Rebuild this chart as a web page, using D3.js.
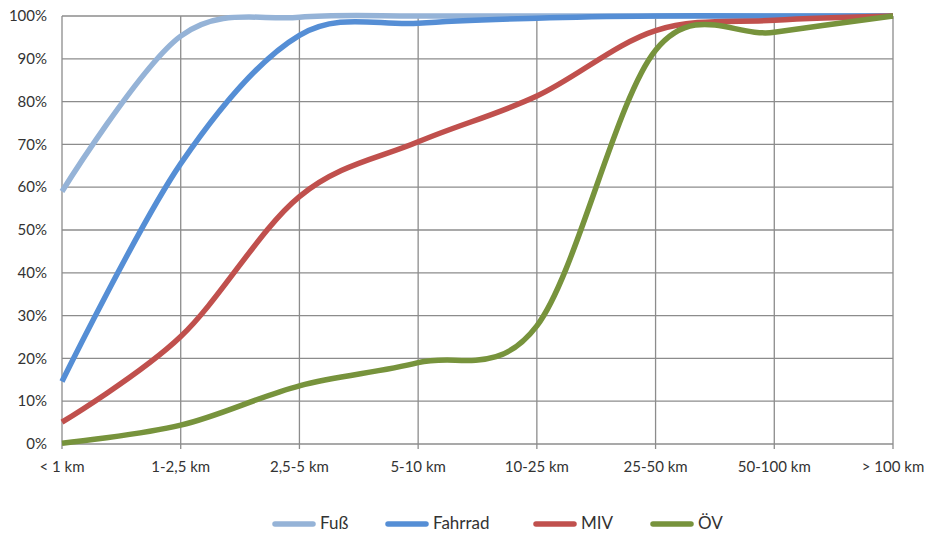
<!DOCTYPE html>
<html>
<head>
<meta charset="utf-8">
<script src="https://cdn.jsdelivr.net/npm/d3@7"></script>
<style>
  html, body { margin: 0; padding: 0; background: #fff; }
  svg { display: block; font-family: Lato, "Open Sans", "Liberation Sans", sans-serif; }
</style>
</head>
<body>
<svg id="chart" width="928" height="535"></svg>
<script>
// Distance classes on the x axis
const categories = ["< 1 km", "1-2,5 km", "2,5-5 km", "5-10 km", "10-25 km", "25-50 km", "50-100 km", "> 100 km"];

// Cumulative share of trips per mode (percent)
const fuss    = [59, 95.3, 99.7, 100, 100, 100, 100, 100];
const fahrrad = [14.6, 65.5, 95.5, 98.3, 99.5, 100, 100, 100];
const miv     = [5.1, 25.1, 57.8, 70.6, 81.3, 96.6, 99, 100];
const oev     = [0.2, 4.4, 13.6, 19, 27.6, 92, 96.2, 100];

const yTicks = [0, 10, 20, 30, 40, 50, 60, 70, 80, 90, 100];

const seriesNames = ["Fuß", "Fahrrad", "MIV", "ÖV"];
const seriesValues = [fuss, fahrrad, miv, oev];
const seriesColors = ["#95B3D7", "#558ED5", "#C0504D", "#77933C"];

const svg = d3.select("#chart");
const margin = { left: 62, right: 35, top: 16, bottom: 91 };
const width = 928, height = 535;

const x = d3.scalePoint().domain(categories).range([margin.left, width - margin.right]);
const y = d3.scaleLinear().domain([0, 100]).range([height - margin.bottom, margin.top]);

const gridColor = "#8c8c8c";

// Horizontal gridlines
svg.append("g")
  .selectAll("line")
  .data(yTicks)
  .join("line")
  .attr("x1", margin.left).attr("x2", width - margin.right)
  .attr("y1", d => y(d)).attr("y2", d => y(d))
  .attr("stroke", gridColor).attr("stroke-width", 1.3);

// Vertical gridlines, extended below the axis as tick marks
svg.append("g")
  .selectAll("line")
  .data(categories)
  .join("line")
  .attr("x1", d => x(d)).attr("x2", d => x(d))
  .attr("y1", margin.top).attr("y2", y(0) + 5)
  .attr("stroke", gridColor).attr("stroke-width", 1.3);

// Y axis labels
svg.append("g")
  .selectAll("text")
  .data(yTicks)
  .join("text")
  .attr("x", margin.left - 15)
  .attr("y", d => y(d))
  .attr("dy", "0.35em")
  .attr("text-anchor", "end")
  .attr("font-size", 15)
  .attr("fill", "#333")
  .text(d => d + "%");

// X axis labels
svg.append("g")
  .selectAll("text")
  .data(categories)
  .join("text")
  .attr("x", d => x(d))
  .attr("y", y(0) + 28)
  .attr("text-anchor", "middle")
  .attr("font-size", 15)
  .attr("fill", "#333")
  .text(d => d);

// Smoothed lines
const line = d3.line()
  .x((d, i) => x(categories[i]))
  .y(d => y(d))
  .curve(d3.curveCardinal.tension(0));

svg.append("g")
  .selectAll("path")
  .data(seriesValues)
  .join("path")
  .attr("d", d => line(d))
  .attr("fill", "none")
  .attr("stroke", (d, i) => seriesColors[i])
  .attr("stroke-width", 5.5)
  .attr("stroke-linecap", "butt")
  .attr("stroke-linejoin", "round");

// Legend
const legendX = [275, 388, 536, 653];
const legend = svg.append("g")
  .selectAll("g")
  .data(seriesNames)
  .join("g")
  .attr("transform", (d, i) => `translate(${legendX[i]},523)`);

legend.append("line")
  .attr("x1", 0).attr("x2", 38)
  .attr("y1", 1).attr("y2", 1)
  .attr("stroke", (d, i) => seriesColors[i])
  .attr("stroke-width", 5.5)
  .attr("stroke-linecap", "round");

legend.append("text")
  .attr("x", 45)
  .attr("y", 0)
  .attr("dy", "0.35em")
  .attr("font-size", 17)
  .attr("fill", "#333")
  .text(d => d);
</script>
</body>
</html>
